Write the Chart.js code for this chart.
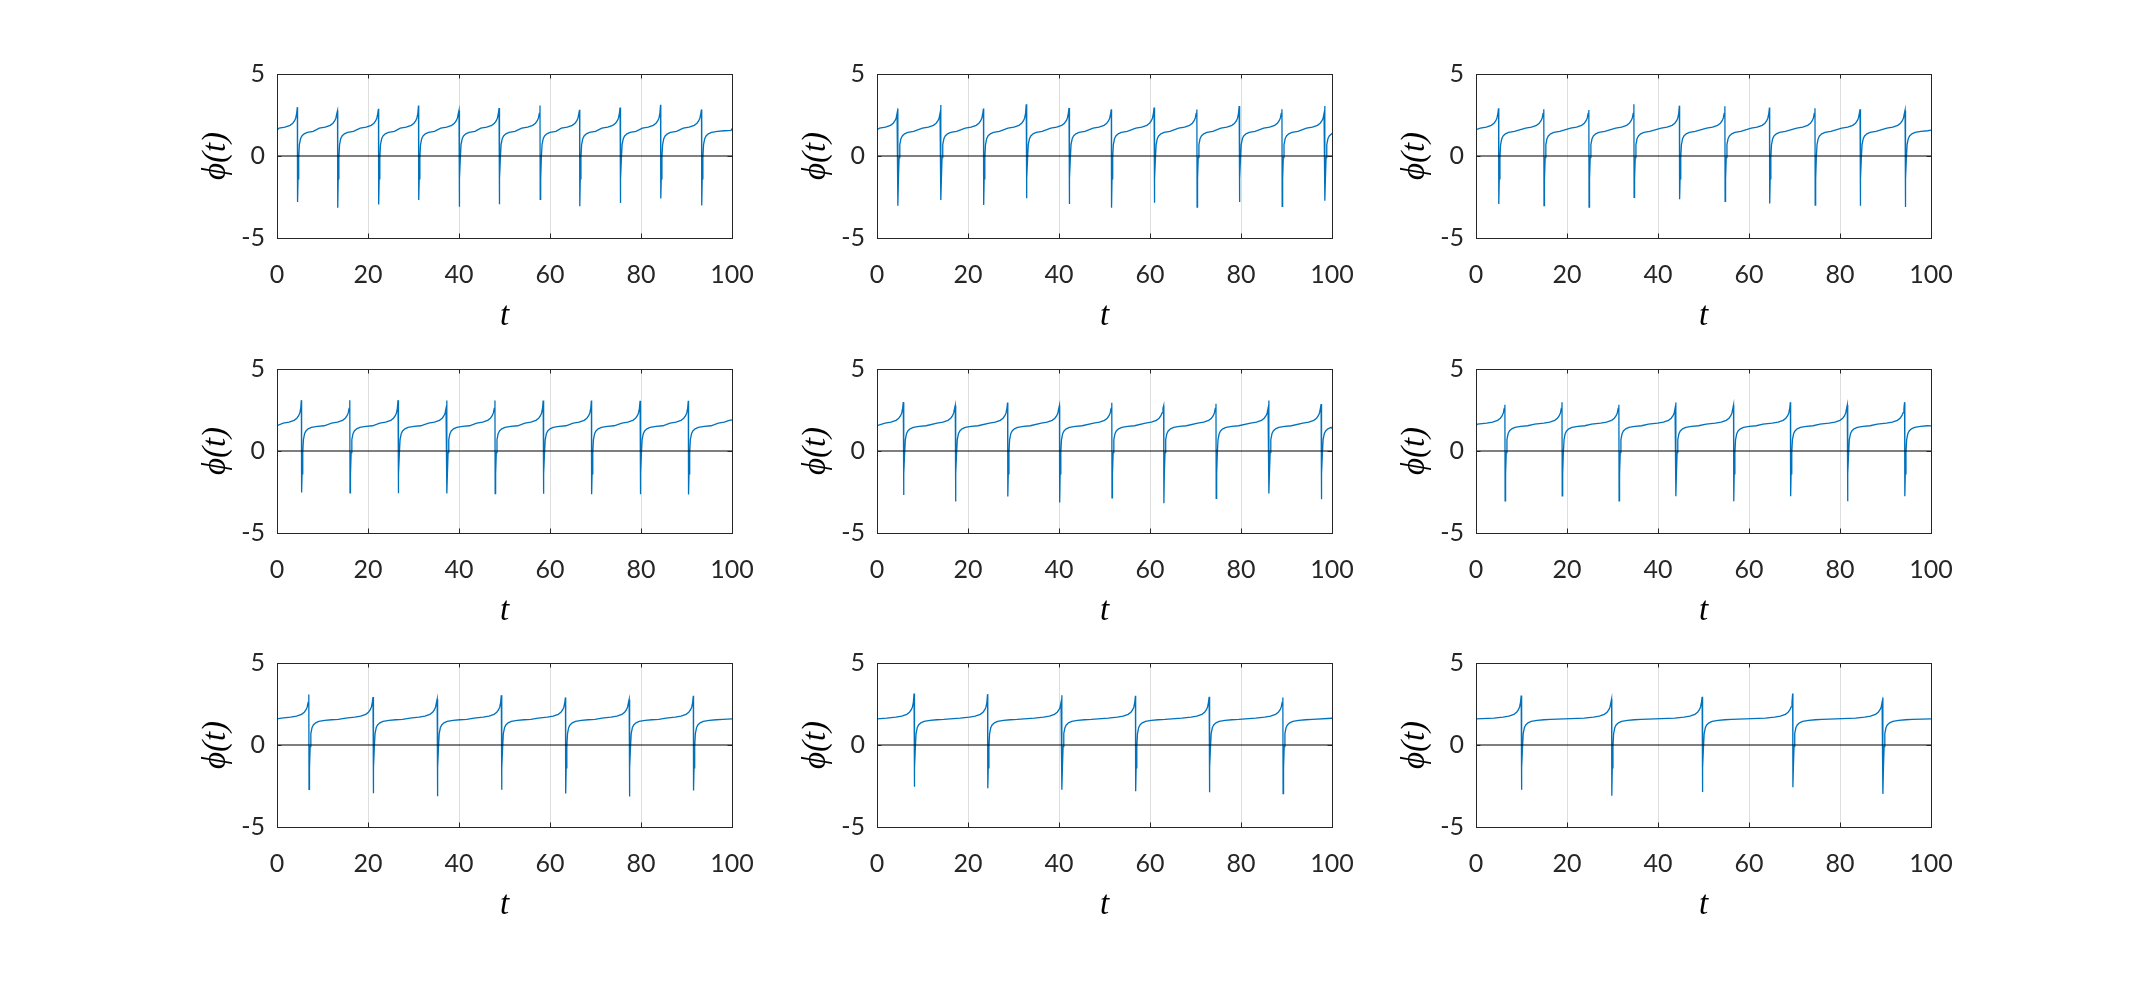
<!DOCTYPE html>
<html>
<head>
<meta charset="utf-8">
<script src="https://cdn.jsdelivr.net/npm/chart.js@4.4.1/dist/chart.umd.min.js"></script>
<style>
    html, body { margin: 0; padding: 0; background: #fff; }
    #fig { position: relative; width: 2134px; height: 984px; overflow: hidden; background: #fff; }
    #fig canvas { position: absolute; }
</style>
</head>
<body>
<div id="fig"></div>
<script>
// Tick labels
const xTicks = [0, 20, 40, 60, 80, 100];
const yTicks = [-5, 0, 5];

// Shape of one slip, as offsets (in t) from the spike top
const preOffsets  = [-6, -4, -2.7, -1.6, -1.0, -0.6, -0.35, -0.15];
const preValues   = [1.64, 1.70, 1.76, 1.87, 2.0, 2.15, 2.32, 2.6];
const troughOffset = 0.05;
const postOffsets = [0.15, 0.3, 0.45, 0.7, 1.0, 1.5, 2.2, 3.5, 5, 6.5];
const postValues  = [-1.4, -0.1, 0.7, 1.05, 1.22, 1.35, 1.44, 1.50, 1.54, 1.56];

// Spike times, tops and bottoms of each panel (row by row)
const spikes1  = [4.47, 13.3, 22.3, 31.1, 40.0, 48.8, 57.8, 66.5, 75.4, 84.3, 93.3];
const peaks1   = [2.98, 2.76, 2.88, 3.08, 2.78, 2.92, 3.08, 2.82, 2.96, 3.12, 2.84];
const troughs1 = [-2.80, -3.16, -2.96, -2.69, -3.10, -2.94, -2.65, -3.06, -2.86, -2.59, -3.02];

const spikes2  = [4.56, 14.0, 23.4, 32.8, 42.2, 51.5, 60.9, 70.3, 79.6, 89.0, 98.4];
const peaks2   = [2.89, 3.11, 2.89, 3.16, 2.93, 2.85, 2.95, 2.83, 3.05, 2.85, 3.05];
const troughs2 = [-3.03, -2.68, -2.99, -2.58, -2.93, -3.16, -2.85, -3.11, -2.81, -3.07, -2.73];

const spikes3  = [4.96, 14.9, 24.8, 34.7, 44.7, 54.7, 64.5, 74.5, 84.4, 94.3];
const peaks3   = [2.91, 2.85, 2.81, 3.16, 3.07, 3.03, 2.95, 2.91, 2.85, 2.79];
const troughs3 = [-2.93, -3.03, -3.11, -2.52, -2.64, -2.77, -2.89, -2.99, -3.03, -3.11];

const spikes4  = [5.36, 16.0, 26.6, 37.3, 47.9, 58.5, 69.1, 79.8, 90.4, 101.0];
const peaks4   = [3.10, 3.10, 3.10, 3.08, 3.08, 3.08, 3.08, 3.06, 3.06, 3.06];
const troughs4 = [-2.53, -2.55, -2.57, -2.59, -2.59, -2.61, -2.63, -2.63, -2.65, -2.65];

const spikes5  = [5.78, 17.2, 28.7, 40.1, 51.6, 63.0, 74.5, 86.1, 97.6];
const peaks5   = [2.98, 2.78, 2.96, 2.78, 2.94, 2.76, 2.88, 3.08, 2.86];
const troughs5 = [-2.69, -3.08, -2.78, -3.14, -2.86, -3.18, -2.88, -2.59, -2.94];

const spikes6  = [6.35, 18.9, 31.4, 43.9, 56.6, 69.1, 81.6, 94.2];
const peaks6   = [2.82, 2.98, 2.82, 2.96, 2.80, 2.98, 2.80, 2.98];
const troughs6 = [-3.04, -2.73, -3.04, -2.76, -3.06, -2.76, -3.06, -2.76];

const spikes7  = [6.99, 21.1, 35.2, 49.3, 63.4, 77.4, 91.5];
const peaks7   = [3.08, 2.92, 2.80, 3.04, 2.90, 2.78, 3.00];
const troughs7 = [-2.71, -2.94, -3.12, -2.73, -2.96, -3.14, -2.78];

const spikes8  = [8.14, 24.3, 40.6, 56.8, 73.0, 89.2];
const peaks8   = [3.14, 3.10, 3.04, 3.00, 2.94, 2.90];
const troughs8 = [-2.55, -2.63, -2.73, -2.82, -2.88, -2.96];

const spikes9  = [9.93, 29.8, 49.7, 69.6, 89.4];
const peaks9   = [3.02, 2.80, 2.94, 3.14, 2.90];
const troughs9 = [-2.73, -3.10, -2.86, -2.57, -2.98];

// Value of phi at t = 0 and t = 100 in each panel
const startValues = [1.57, 1.60, 1.60, 1.55, 1.55, 1.55, 1.59, 1.59, 1.59];
const endValues   = [1.67, 1.31, 1.58, 1.90, 1.37, 1.53, 1.59, 1.63, 1.59];

const panels = [
    [spikes1, peaks1, troughs1], [spikes2, peaks2, troughs2], [spikes3, peaks3, troughs3],
    [spikes4, peaks4, troughs4], [spikes5, peaks5, troughs5], [spikes6, peaks6, troughs6],
    [spikes7, peaks7, troughs7], [spikes8, peaks8, troughs8], [spikes9, peaks9, troughs9]
];

// Layout of the figure (pixels)
const colLefts = [277, 877, 1476];
const rowTops = [74, 369, 663];
const plotW = 455;
const plotH = 164;
const yAxisW = 130;
const xAxisH = 100;
const padTop = 45;    // larger than the y labels' own padding, so it wins
const padRight = 55;  // same for the last x label

const tickFont = { family: 'Lato, "Open Sans", sans-serif', size: 25 };
const titleFont = { family: '"Liberation Serif", "DejaVu Serif", serif', size: 33, style: 'italic' };
const axisColor = '#262626';

/**
 * Builds the points of one trace from spike times and the slip shape
 */
function buildTrace(spikes, peaks, troughs, start, end) {
    const pts = [{ x: 0, y: start }];
    spikes.forEach((ts, i) => {
        const prev = i > 0 ? spikes[i - 1] : -ts;
        const next = i < spikes.length - 1 ? spikes[i + 1] : Infinity;

        // rising part before the slip
        preOffsets.forEach((o, k) => {
            const t = ts + o;
            if (t > 0 && t < 100 && -o < (ts - prev) / 2) pts.push({ x: t, y: preValues[k] });
        });

        if (ts < 100) {
            pts.push({ x: ts, y: peaks[i] });
            pts.push({ x: ts + troughOffset, y: troughs[i] });
        }

        // recovery after the slip
        postOffsets.forEach((o, k) => {
            const t = ts + o;
            if (t > 0 && t < 100 && o < (next - ts) / 2) pts.push({ x: t, y: postValues[k] });
        });
    });
    pts.push({ x: 100, y: end });
    return pts;
}

// Box around the axes and inward tick marks (MATLAB style)
const boxPlugin = {
    id: 'boxPlugin',
    afterDatasetsDraw(chart) {
        const { ctx, chartArea: a, scales } = chart;
        const len = 4.5;
        ctx.save();
        ctx.strokeStyle = axisColor;
        ctx.lineWidth = 1;
        ctx.beginPath();
        xTicks.forEach(v => {
            const px = Math.round(scales.x.getPixelForValue(v)) + 0.5;
            ctx.moveTo(px, a.bottom);
            ctx.lineTo(px, a.bottom - len);
            ctx.moveTo(px, a.top);
            ctx.lineTo(px, a.top + len);
        });
        yTicks.forEach(v => {
            const py = Math.round(scales.y.getPixelForValue(v)) + 0.5;
            ctx.moveTo(a.left, py);
            ctx.lineTo(a.left + len, py);
            ctx.moveTo(a.right, py);
            ctx.lineTo(a.right - len, py);
        });
        ctx.stroke();
        ctx.strokeRect(Math.round(a.left) + 0.5, Math.round(a.top) + 0.5,
                       Math.round(a.width), Math.round(a.height));
        ctx.restore();
    }
};

/**
 * Creates one subplot
 */
function createPanel(index) {
    const fig = document.getElementById('fig');
    const row = Math.floor(index / 3);
    const col = index % 3;
    const [spikes, peaks, troughs] = panels[index];

    const canvas = document.createElement('canvas');
    const w = yAxisW + plotW + padRight;
    const h = padTop + plotH + xAxisH;
    canvas.width = w;
    canvas.height = h;
    canvas.style.width = w + 'px';
    canvas.style.height = h + 'px';
    canvas.style.left = (colLefts[col] - yAxisW) + 'px';
    canvas.style.top = (rowTops[row] - padTop) + 'px';
    fig.appendChild(canvas);

    new Chart(canvas, {
        type: 'line',
        data: {
            datasets: [
                {
                    label: 'zero',
                    data: [{ x: 0, y: 0 }, { x: 100, y: 0 }],
                    borderColor: '#000000',
                    borderWidth: 1.2,
                    pointRadius: 0,
                    order: 0
                },
                {
                    label: 'phi',
                    data: buildTrace(spikes, peaks, troughs, startValues[index], endValues[index]),
                    borderColor: '#0072BD',
                    borderWidth: 1.3,
                    pointRadius: 0,
                    tension: 0,
                    order: 1
                }
            ]
        },
        options: {
            responsive: false,
            animation: false,
            devicePixelRatio: 1,
            layout: { padding: { top: padTop, right: padRight, bottom: 0, left: 0 } },
            plugins: { legend: { display: false }, tooltip: { enabled: false } },
            scales: {
                x: {
                    type: 'linear',
                    min: 0,
                    max: 100,
                    afterBuildTicks: s => { s.ticks = xTicks.map(v => ({ value: v })); },
                    afterFit: s => { s.height = xAxisH; },
                    border: { display: false },
                    grid: {
                        drawTicks: false,
                        lineWidth: 1,
                        color: c => (c.tick && c.tick.value > 0 && c.tick.value < 100) ? '#dedede' : 'rgba(0,0,0,0)'
                    },
                    ticks: { font: tickFont, color: axisColor, padding: 22, maxRotation: 0, autoSkip: false },
                    title: { display: true, text: 't', font: titleFont, color: '#000', padding: { top: 0, bottom: 2 } }
                },
                y: {
                    type: 'linear',
                    min: -5,
                    max: 5,
                    afterBuildTicks: s => { s.ticks = yTicks.map(v => ({ value: v })); },
                    afterFit: s => { s.width = yAxisW; },
                    border: { display: false },
                    grid: { display: false, drawTicks: false },
                    ticks: { font: tickFont, color: axisColor, padding: 12 },
                    title: { display: true, text: 'ϕ(t)', font: titleFont, color: '#000', padding: { top: 50, bottom: 0 } }
                }
            }
        },
        plugins: [boxPlugin]
    });
}

document.addEventListener('DOMContentLoaded', function() {
    for (let i = 0; i < 9; i++) createPanel(i);
});
</script>
</body>
</html>
